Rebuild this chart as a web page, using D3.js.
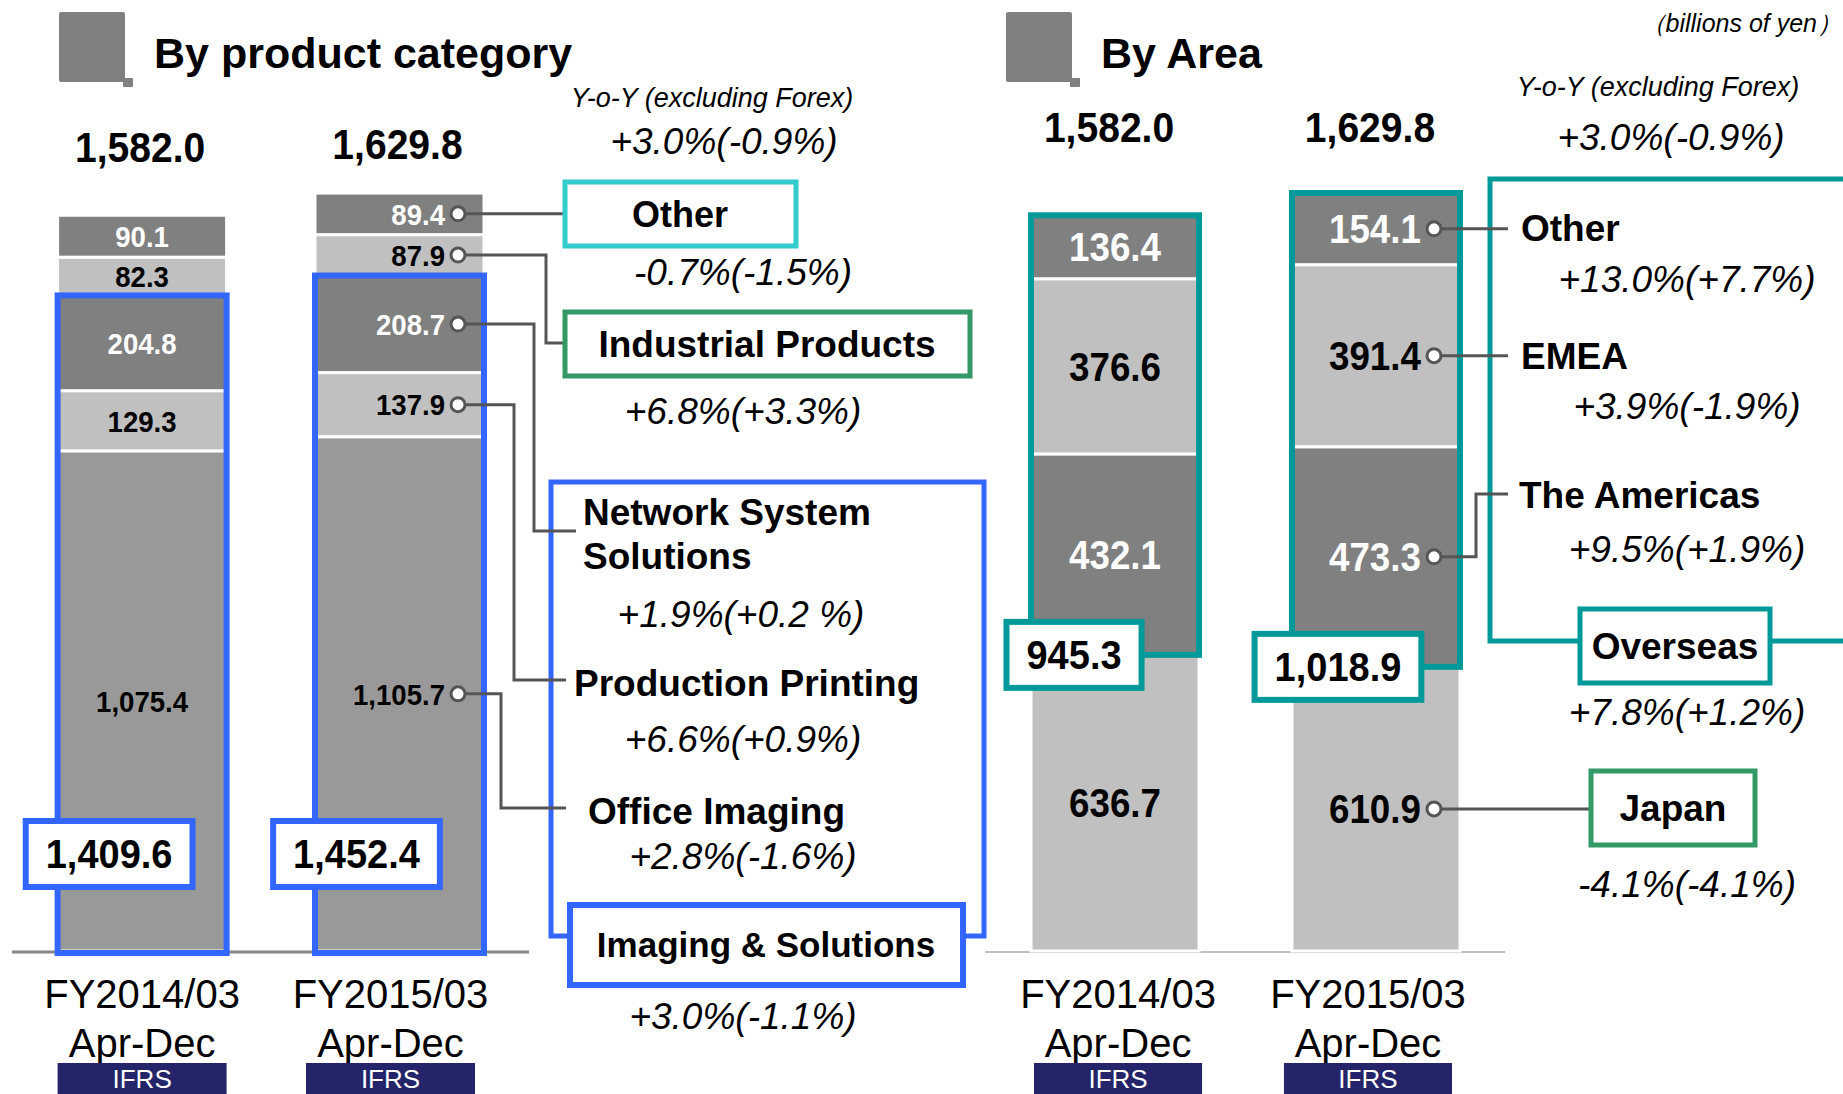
<!DOCTYPE html>
<html>
<head>
<meta charset="utf-8">
<script src="https://cdn.jsdelivr.net/npm/d3@7"></script>
<style>
  body { margin: 0; background: #fff; }
  text { font-family: "Liberation Sans", Arial, sans-serif; }
</style>
</head>
<body>
<div id="chart"></div>
<script>
// periods and their captions
var periods = ["FY2014/03", "FY2015/03"];
var periodSub = "Apr-Dec";
var standardLabel = "IFRS";

// by product category (bottom to top)
var productKeys = ["Office Imaging", "Production Printing", "Network System Solutions", "Industrial Products", "Other"];
var productFY14 = [1075.4, 129.3, 204.8, 82.3, 90.1];
var productFY15 = [1105.7, 137.9, 208.7, 87.9, 89.4];
var productTotals = [1582.0, 1629.8];
var imagingTotals = [1409.6, 1452.4];
var productGrowth = ["+2.8%(-1.6%)", "+6.6%(+0.9%)", "+1.9%(+0.2 %)", "+6.8%(+3.3%)", "-0.7%(-1.5%)"];
var imagingGrowth = "+3.0%(-1.1%)";
var totalGrowth = "+3.0%(-0.9%)";

// by area (bottom to top)
var areaKeys = ["Japan", "The Americas", "EMEA", "Other"];
var areaFY14 = [636.7, 432.1, 376.6, 136.4];
var areaFY15 = [610.9, 473.3, 391.4, 154.1];
var areaTotals = [1582.0, 1629.8];
var overseasTotals = [945.3, 1018.9];
var areaGrowth = ["-4.1%(-4.1%)", "+9.5%(+1.9%)", "+3.9%(-1.9%)", "+13.0%(+7.7%)"];
var overseasGrowth = "+7.8%(+1.2%)";

function main() {
  var W = 1843, H = 1094;
  var fmt = d3.format(",.1f");
  var DARK = "#808080", LIGHT = "#c0c0c0", MID = "#999999";
  var BLUE = "#3366ff", TEAL = "#009999", CYAN = "#33cccc", GREEN = "#339966", LINE = "#555555";
  var PCT = 37;

  var svg = d3.select("#chart").append("svg")
    .attr("width", W).attr("height", H);

  // shared vertical scale
  var y = d3.scaleLinear().domain([0, 2000]).range([951, 951 - 2000 * 0.4651]);

  var xP = d3.scaleBand().domain(periods).range([57.6, 484]).paddingInner(0.3434);
  var xA = d3.scaleBand().domain(periods).range([1031, 1460]).paddingInner(0.356);

  // text helper, with horizontal squeeze
  function txt(g, x, yy, s, o) {
    o = o || {};
    return g.append("text")
      .attr("transform", "translate(" + x + "," + yy + ") scale(" + (o.sx || 1) + ",1)")
      .attr("text-anchor", o.anchor || "middle")
      .style("font-size", (o.size || 30) + "px")
      .style("font-weight", o.bold ? "bold" : "normal")
      .style("font-style", o.italic ? "italic" : "normal")
      .attr("fill", o.fill || "#000")
      .text(s);
  }

  function titleIcon(x0, label) {
    svg.append("rect").attr("x", x0).attr("y", 12).attr("width", 66).attr("height", 70)
      .attr("rx", 2).attr("fill", DARK);
    svg.append("rect").attr("x", x0 + 64).attr("y", 78).attr("width", 10).attr("height", 9)
      .attr("rx", 1).attr("fill", DARK);
    txt(svg, x0 + 95, 68, label, {size: 43, bold: true, anchor: "start"});
  }
  titleIcon(59, "By product category");
  titleIcon(1006, "By Area");
  txt(svg, 1842, 32, "（billions of yen）", {size: 25, italic: true, anchor: "end"});

  // generic stacked panel
  function panel(cfg) {
    var rows = periods.map(function(p, i) {
      var r = {period: p};
      cfg.keys.forEach(function(k, j) { r[k] = cfg.values[i][j]; });
      return r;
    });
    var series = d3.stack().keys(cfg.keys)(rows);
    var x = cfg.x;
    var g = svg.append("g");

    // baseline
    g.append("line").attr("x1", cfg.base[0]).attr("x2", cfg.base[1])
      .attr("y1", y(0) + 1).attr("y2", y(0) + 1)
      .attr("stroke", cfg.baseColor).attr("stroke-width", cfg.baseWidth);

    series.forEach(function(s, j) {
      g.selectAll(null).data(s).enter().append("rect")
        .attr("x", function(d) { return x(d.data.period); })
        .attr("y", function(d) { return y(d[1]); })
        .attr("width", x.bandwidth())
        .attr("height", function(d) { return y(d[0]) - y(d[1]); })
        .attr("fill", cfg.colors[j])
        .attr("stroke", "#fff").attr("stroke-width", 3);
    });

    // group outline (Imaging & Solutions / Overseas)
    periods.forEach(function(p, i) {
      var lo = series[cfg.groupFrom][i][0], hi = series[cfg.groupTo][i][1];
      g.append("rect").attr("x", x(p)).attr("y", y(hi))
        .attr("width", x.bandwidth()).attr("height", y(lo) - y(hi) + (lo === 0 ? 2 : 0))
        .attr("fill", "none").attr("stroke", cfg.groupColor).attr("stroke-width", 6);
    });

    // segment labels
    series.forEach(function(s, j) {
      s.forEach(function(d, i) {
        var cy = (y(d[0]) + y(d[1])) / 2 + cfg.segSize * 0.36;
        var fill = cfg.colors[j] === DARK ? "#fff" : "#000";
        if (i === 0) {
          txt(g, x(d.data.period) + x.bandwidth() / 2, cy, fmt(d[1] - d[0]),
            {size: cfg.segSize, bold: true, sx: 0.92, fill: fill});
        } else {
          var cx = x(d.data.period) + x.bandwidth() - 26;
          txt(g, cx - 13, cy, fmt(d[1] - d[0]),
            {size: cfg.segSize, bold: true, sx: 0.92, fill: fill, anchor: "end"});
        }
      });
    });

    // totals on top, period captions below
    periods.forEach(function(p, i) {
      txt(g, x(p) + x.bandwidth() / 2 + cfg.totalDx, cfg.totalY[i], fmt(cfg.totals[i]),
        {size: 42, bold: true, sx: 0.93});
      var capX = x(p) + x.bandwidth() / 2 + cfg.capDx[i];
      txt(g, capX, 1008, p, {size: 40});
      txt(g, capX, 1057, periodSub, {size: 40});
      g.append("rect").attr("x", capX - x.bandwidth() / 2).attr("y", 1063)
        .attr("width", x.bandwidth()).attr("height", 40)
        .attr("fill", "#24246a");
      txt(g, capX, 1088, standardLabel, {size: 26, fill: "#fff"});
    });

    // group total boxes
    periods.forEach(function(p, i) {
      var cy = cfg.groupBoxY(series, i);
      var cx = x(p) + x.bandwidth() / 2 + cfg.boxDx[i];
      var t = txt(g, 0, 0, fmt(cfg.groupTotals[i]), {size: 40, bold: true, sx: 0.95});
      var w = t.node().getComputedTextLength() * 0.95 + 40;
      g.insert("rect", function() { return t.node(); })
        .attr("x", cx - w / 2).attr("y", cy - 33).attr("width", w).attr("height", 66)
        .attr("fill", "#fff").attr("stroke", cfg.groupColor).attr("stroke-width", 6);
      t.attr("transform", "translate(" + cx + "," + (cy + 14) + ") scale(0.95,1)");
    });

    // connector anchor points for the latest period
    var p2 = periods[1];
    var circX = x(p2) + x.bandwidth() - 26;
    var pts = series.map(function(s) { return (y(s[1][0]) + y(s[1][1])) / 2; });
    return {g: g, circX: circX, pts: pts};
  }

  function connector(g, pts) {
    g.append("path")
      .attr("d", d3.line()(pts))
      .attr("fill", "none").attr("stroke", LINE).attr("stroke-width", 3);
  }
  function dot(g, cx, cy) {
    g.append("circle").attr("cx", cx).attr("cy", cy).attr("r", 7)
      .attr("fill", "#fff").attr("stroke", LINE).attr("stroke-width", 3);
  }
  function box(g, x0, y0, w, h, color, sw) {
    g.append("rect").attr("x", x0).attr("y", y0).attr("width", w).attr("height", h)
      .attr("fill", "#fff").attr("stroke", color).attr("stroke-width", sw || 5);
  }

  // ---------- left panel: by product category ----------
  var L = panel({
    keys: productKeys, values: [productFY14, productFY15], x: xP,
    colors: [MID, LIGHT, DARK, LIGHT, DARK],
    base: [12, 529], baseColor: "#888", baseWidth: 3,
    groupFrom: 0, groupTo: 2, groupColor: BLUE,
    segSize: 30, totals: productTotals, totalY: [162, 159], totalDx: -2,
    groupTotals: imagingTotals, boxDx: [-33, -43], capDx: [0, -9],
    groupBoxY: function() { return 854; }
  });
  var lg = L.g;

  // annotation boxes (left)
  lg.append("rect").attr("x", 551).attr("y", 482).attr("width", 433).attr("height", 454)
    .attr("fill", "#fff").attr("stroke", BLUE).attr("stroke-width", 5);

  connector(lg, [[L.circX, L.pts[4]], [565, L.pts[4]]]);
  connector(lg, [[L.circX, L.pts[3]], [546, L.pts[3]], [546, 343], [565, 343]]);
  connector(lg, [[L.circX, L.pts[2]], [534, L.pts[2]], [534, 531], [576, 531]]);
  connector(lg, [[L.circX, L.pts[1]], [514, L.pts[1]], [514, 680], [566, 680]]);
  connector(lg, [[L.circX, L.pts[0]], [501, L.pts[0]], [501, 808], [566, 808]]);
  L.pts.forEach(function(cy) { dot(lg, L.circX, cy); });

  box(lg, 565, 182, 231, 64, CYAN);
  txt(lg, 680, 227, productKeys[4], {size: 36, bold: true});
  txt(lg, 743, 285, productGrowth[4], {size: PCT, italic: true});

  box(lg, 565, 312, 405, 64, GREEN);
  txt(lg, 767, 357, productKeys[3], {size: 37, bold: true});
  txt(lg, 743, 424, productGrowth[3], {size: PCT, italic: true});

  txt(lg, 583, 525, "Network System", {size: 37, bold: true, anchor: "start"});
  txt(lg, 583, 569, "Solutions", {size: 37, bold: true, anchor: "start"});
  txt(lg, 741, 627, productGrowth[2], {size: PCT, italic: true});
  txt(lg, 574, 696, productKeys[1], {size: 37, bold: true, anchor: "start"});
  txt(lg, 743, 752, productGrowth[1], {size: PCT, italic: true});
  txt(lg, 588, 824, productKeys[0], {size: 37, bold: true, anchor: "start"});
  txt(lg, 743, 869, productGrowth[0], {size: PCT, italic: true});

  box(lg, 570, 905, 393, 80, BLUE, 6);
  txt(lg, 766, 957, "Imaging & Solutions", {size: 35, bold: true});
  txt(lg, 743, 1029, imagingGrowth, {size: PCT, italic: true});

  txt(lg, 712, 107, "Y-o-Y (excluding Forex)", {size: 27, italic: true});
  txt(lg, 724, 154, totalGrowth, {size: PCT, italic: true});

  // ---------- right panel: by area ----------
  var R = panel({
    keys: areaKeys, values: [areaFY14, areaFY15], x: xA,
    colors: [LIGHT, DARK, LIGHT, DARK],
    base: [985, 1505], baseColor: "#aaa", baseWidth: 1.5,
    groupFrom: 1, groupTo: 3, groupColor: TEAL,
    segSize: 40, totals: areaTotals, totalY: [142, 142], totalDx: -6,
    groupTotals: overseasTotals, boxDx: [-41, -38], capDx: [3, -8],
    groupBoxY: function(series, i) { return y(series[0][i][1]); }
  });
  var rg = R.g;

  rg.append("rect").attr("x", 1490).attr("y", 179).attr("width", 420).attr("height", 462)
    .attr("fill", "none").attr("stroke", TEAL).attr("stroke-width", 5);

  connector(rg, [[R.circX, R.pts[3]], [1508, R.pts[3]]]);
  connector(rg, [[R.circX, R.pts[2]], [1508, R.pts[2]]]);
  connector(rg, [[R.circX, R.pts[1]], [1476, R.pts[1]], [1476, 494], [1508, 494]]);
  connector(rg, [[R.circX, R.pts[0]], [1591, R.pts[0]]]);
  R.pts.forEach(function(cy) { dot(rg, R.circX, cy); });

  txt(rg, 1521, 241, areaKeys[3], {size: 37, bold: true, anchor: "start"});
  txt(rg, 1687, 292, areaGrowth[3], {size: PCT, italic: true});
  txt(rg, 1521, 369, areaKeys[2], {size: 37, bold: true, anchor: "start"});
  txt(rg, 1687, 419, areaGrowth[2], {size: PCT, italic: true});
  txt(rg, 1519, 508, areaKeys[1], {size: 37, bold: true, anchor: "start"});
  txt(rg, 1687, 562, areaGrowth[1], {size: PCT, italic: true});

  box(rg, 1580, 609, 190, 74, TEAL, 5);
  txt(rg, 1675, 659, "Overseas", {size: 37, bold: true});
  txt(rg, 1687, 725, overseasGrowth, {size: PCT, italic: true});

  box(rg, 1591, 771, 164, 74, GREEN, 5);
  txt(rg, 1673, 821, areaKeys[0], {size: 37, bold: true});
  txt(rg, 1687, 897, areaGrowth[0], {size: PCT, italic: true});

  txt(rg, 1658, 96, "Y-o-Y (excluding Forex)", {size: 27, italic: true});
  txt(rg, 1671, 150, totalGrowth, {size: PCT, italic: true});
}
main();
</script>
</body>
</html>
